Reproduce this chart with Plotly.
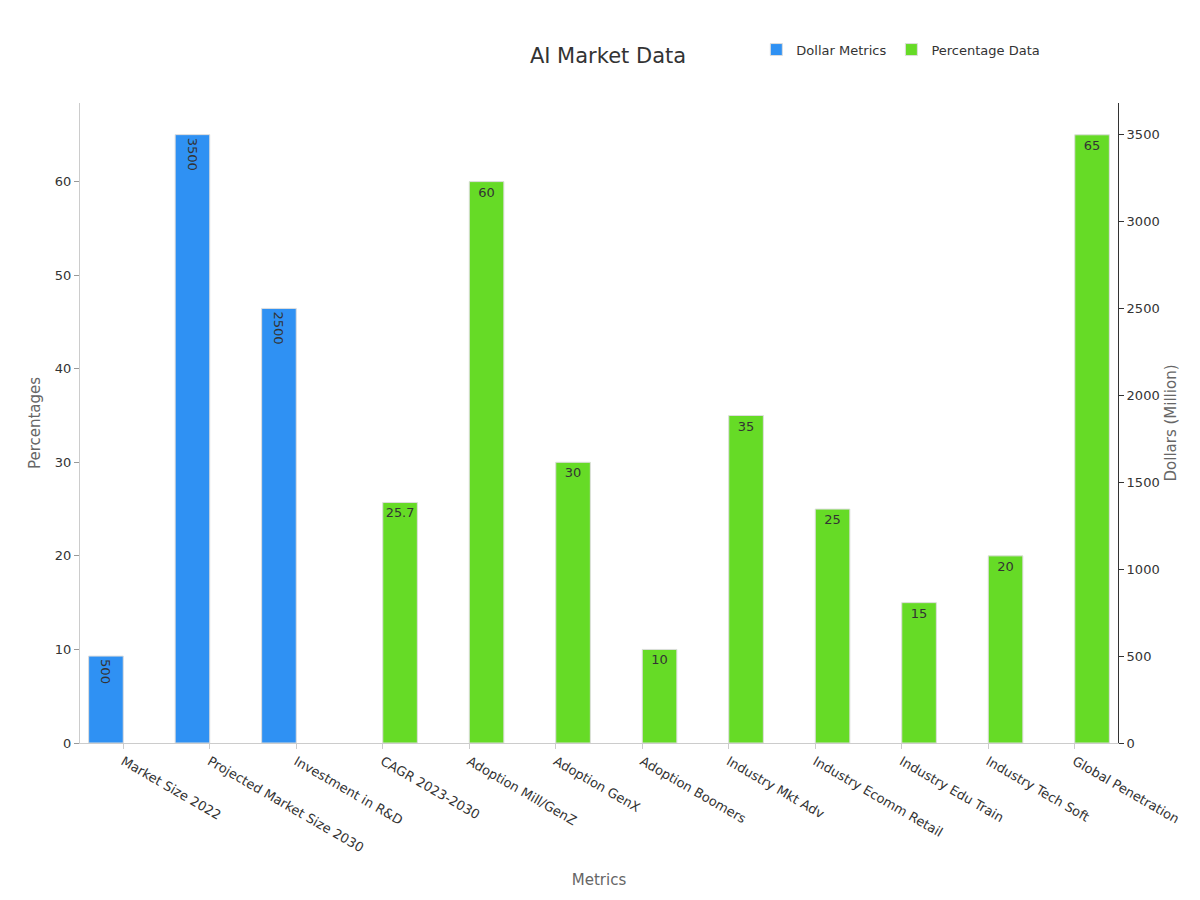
import plotly.graph_objects as go

categories = ["Market Size 2022", "Projected Market Size 2030", "Investment in R&D",
              "CAGR 2023-2030", "Adoption Mill/GenZ", "Adoption GenX", "Adoption Boomers",
              "Industry Mkt Adv", "Industry Ecomm Retail", "Industry Edu Train",
              "Industry Tech Soft", "Global Penetration"]
dollar_values = [500, 3500, 2500, None, None, None, None, None, None, None, None, None]
percent_values = [None, None, None, 25.7, 60, 30, 10, 35, 25, 15, 20, 65]

fig = go.Figure()
fig.add_trace(go.Bar(
    x=categories, y=dollar_values, name="Dollar Metrics", yaxis="y2",
    marker=dict(color="#2f91f3", line=dict(color="#dddddd", width=1)),
    text=[str(v) if v is not None else "" for v in dollar_values],
    textposition="inside", insidetextanchor="end", textangle=90,
    textfont=dict(color="#333333", size=13), offsetgroup="a"))
fig.add_trace(go.Bar(
    x=categories, y=percent_values, name="Percentage Data",
    marker=dict(color="#66db26", line=dict(color="#dddddd", width=1)),
    text=[str(v) if v is not None else "" for v in percent_values],
    textposition="inside", insidetextanchor="end", textangle=0,
    textfont=dict(color="#333333", size=13), offsetgroup="b"))

fig.update_layout(
    width=1200, height=900, template="none",
    font=dict(family="DejaVu Sans", size=13, color="#333333"),
    title=dict(text="AI Market Data", x=0.5, y=0.955, xanchor="center",
               font=dict(size=21, color="#333333")),
    barmode="group", bargap=0.2, bargroupgap=0,
    margin=dict(l=72, r=90, t=95, b=165),
    plot_bgcolor="white", paper_bgcolor="white",
    legend=dict(orientation="h", x=0.93, y=1.06, xanchor="right", yanchor="bottom",
                font=dict(size=13)),
    xaxis=dict(title=dict(text="Metrics", font=dict(color="#666666", size=15), standoff=20),
               tickangle=30, showgrid=False, showline=True, linecolor="#cccccc",
               ticks="outside", tickcolor="#cccccc"),
    yaxis=dict(title=dict(text="Percentages", font=dict(color="#666666", size=15)),
               range=[0, 68.4], dtick=10, showgrid=False, showline=True,
               linecolor="#cccccc", ticks="outside", tickcolor="#999999", zeroline=False),
    yaxis2=dict(title=dict(text="Dollars (Million)", font=dict(color="#666666", size=15)),
                overlaying="y", side="right", range=[0, 3682], dtick=500,
                showgrid=False, showline=True, linecolor="#333333", ticks="outside",
                tickcolor="#333333", zeroline=False),
)

fig.write_html("out.html")
